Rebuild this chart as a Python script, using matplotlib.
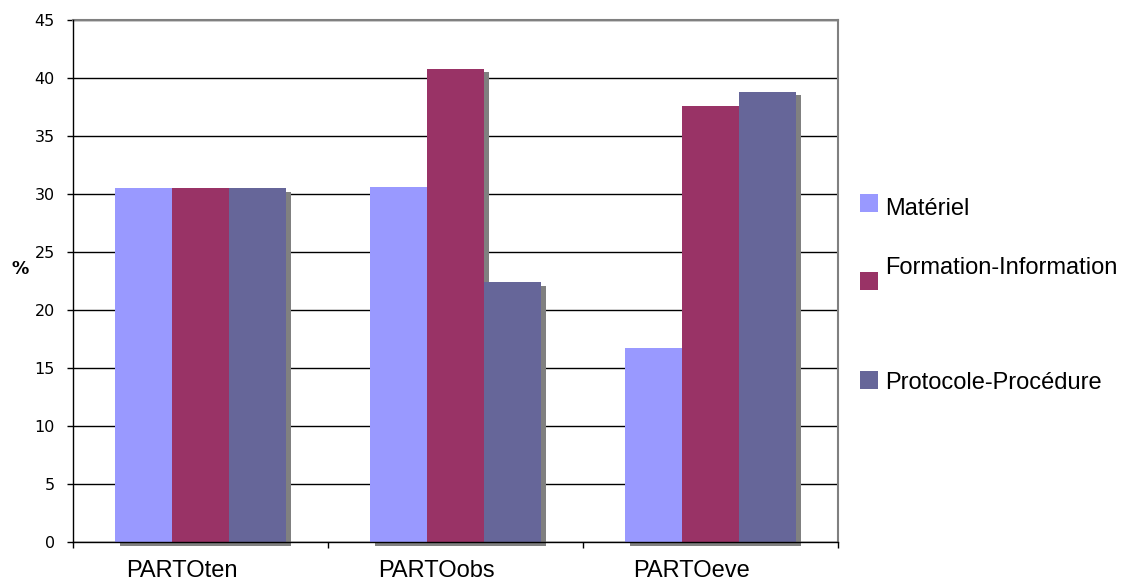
import numpy as np
import matplotlib
matplotlib.use('Agg')
import matplotlib.pyplot as plt
from matplotlib.patches import Rectangle

categories = ['PARTOten', 'PARTOobs', 'PARTOeve']
series = ['Matériel', 'Formation-Information', 'Protocole-Procédure']
materiel = [30.5, 30.6, 16.7]
formation = [30.5, 40.8, 37.6]
protocole = [30.5, 22.4, 38.8]
colors = ['#9999FF', '#993366', '#666699']
yticks = [0, 5, 10, 15, 20, 25, 30, 35, 40, 45]

W, H = 1125, 583
fig = plt.figure(figsize=(W / 100, H / 100), dpi=100)
ax = fig.add_axes([73 / W, 1 - 542 / H, (838 - 73) / W, (542 - 20) / H])

x = np.arange(len(categories))
width = 0.224
values = [materiel, formation, protocole]
dx = 5 / 255.5   # shadow offset, right
dy = 3.5 / 11.6  # shadow offset, down

# shadows first
for i, vals in enumerate(values):
    pos = x + (i - 1) * width + dx
    ax.bar(pos, np.array(vals), width, bottom=-dy, color='#808080',
           zorder=2, clip_on=False, linewidth=0)
for i, vals in enumerate(values):
    pos = x + (i - 1) * width
    ax.bar(pos, vals, width, color=colors[i], zorder=3, linewidth=0)

ax.set_xlim(-0.5, len(categories) - 0.5)
ax.set_ylim(0, 45)
ax.set_yticks(yticks)
ax.set_yticklabels([str(t) for t in yticks], fontfamily='DejaVu Sans', fontsize=11.5)
ax.yaxis.grid(True, color='black', linewidth=1.0, zorder=1)
ax.set_axisbelow(True)
ax.tick_params(axis='y', direction='out', length=4, width=1, pad=9)

ax.set_xticks(np.arange(len(categories) + 1) - 0.5)
ax.set_xticklabels([])
ax.tick_params(axis='x', which='major', direction='out', length=4, width=1)
ax.set_xticks(x - 0.075, minor=True)
ax.set_xticklabels(categories, minor=True, fontfamily='Liberation Sans', fontsize=17)
ax.tick_params(axis='x', which='minor', length=0, pad=13)

for s in ['left', 'bottom']:
    ax.spines[s].set_color('black')
    ax.spines[s].set_linewidth(1.0)
    ax.spines[s].set_zorder(5)
for s in ['top', 'right']:
    ax.spines[s].set_color('#808080')
    ax.spines[s].set_linewidth(1.5)

fig.text(20.5 / W, 1 - 269 / H, '%', fontsize=12.5, fontweight='bold',
         fontfamily='DejaVu Sans', ha='center', va='center')

# legend drawn by hand to keep the uneven spacing of the original
leg_square_top = [194, 272, 371]
leg_baseline = [215, 274, 389]
for i, name in enumerate(series):
    fig.add_artist(Rectangle((860 / W, 1 - (leg_square_top[i] + 18) / H), 18 / W, 18 / H,
                             transform=fig.transFigure, color=colors[i], linewidth=0))
    fig.text(885 / W, 1 - leg_baseline[i] / H, name, fontsize=17,
             fontfamily='Liberation Sans', ha='left', va='baseline')

fig.savefig('out.png', dpi=100)
